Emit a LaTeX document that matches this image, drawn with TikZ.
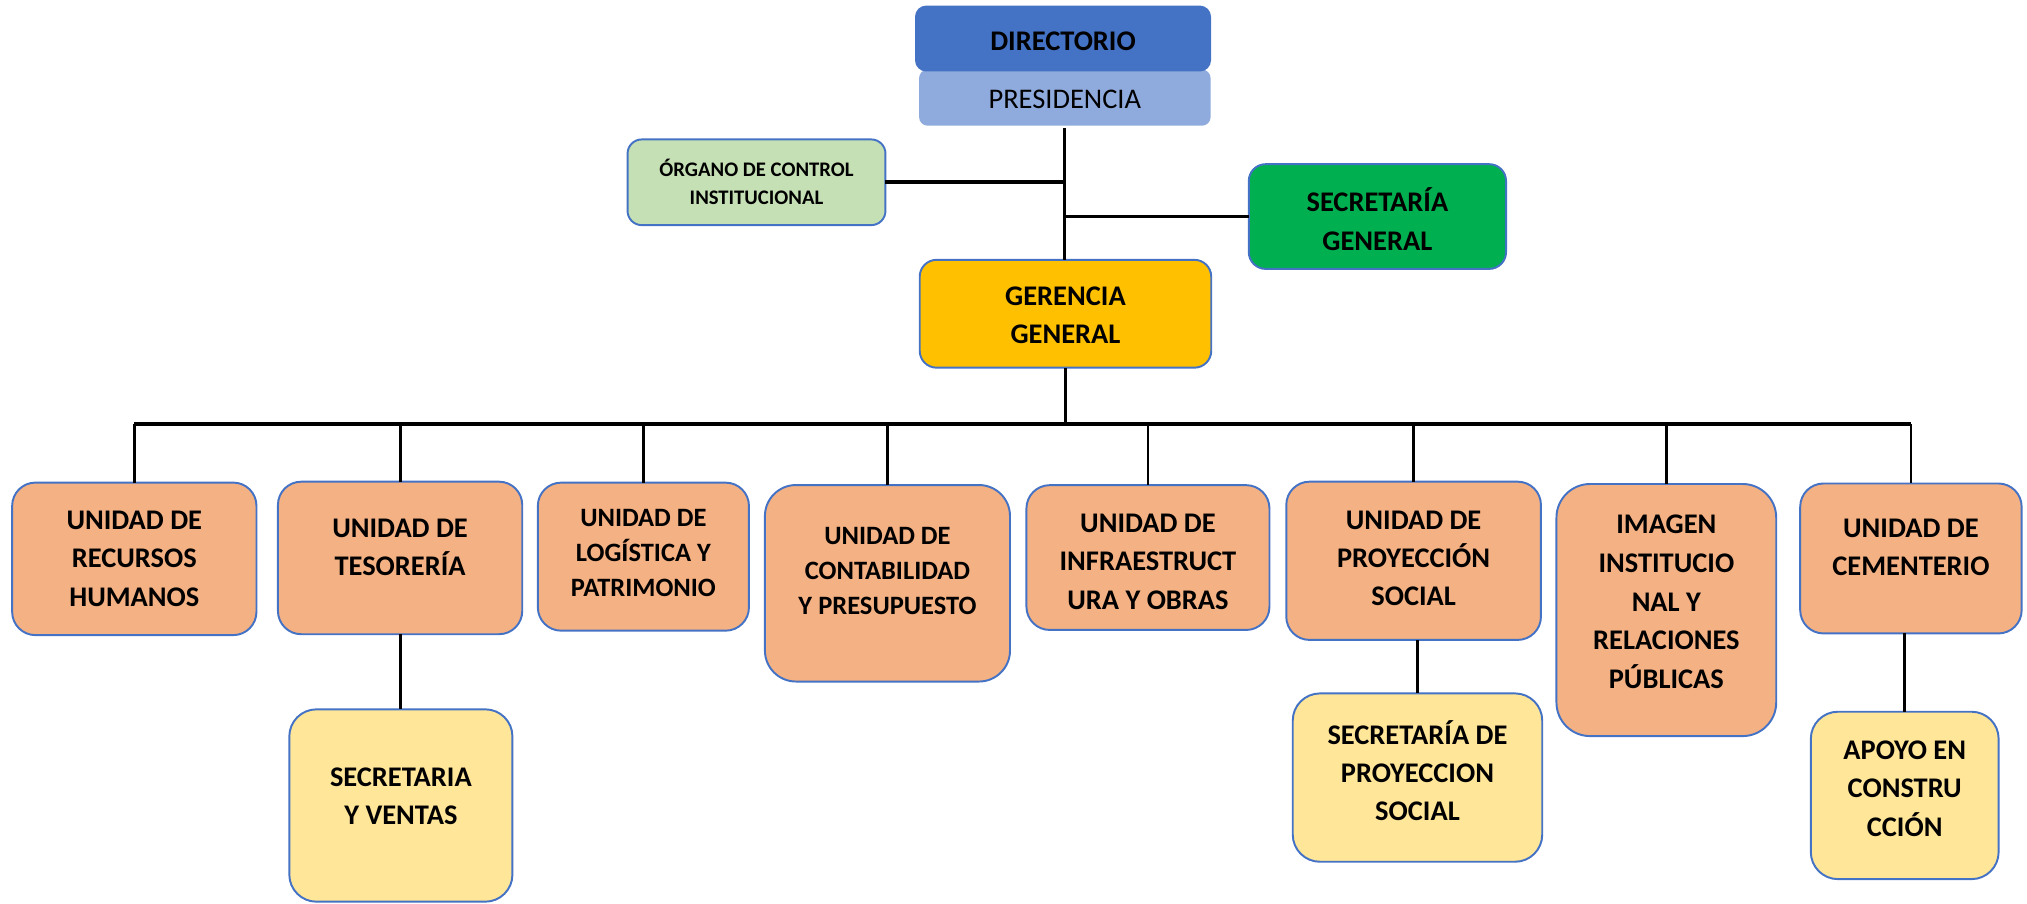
\documentclass[tikz,border=0pt]{standalone}
\usepackage{fontspec}
\setmainfont{Carlito}
\definecolor{bordblue}{HTML}{4472C4}
\definecolor{dirblue}{HTML}{4472C4}
\definecolor{presblue}{HTML}{8FAADC}
\definecolor{orggreen}{HTML}{C5E0B4}
\definecolor{secgreen}{HTML}{00B050}
\definecolor{gerorange}{HTML}{FFC000}
\definecolor{unitfill}{HTML}{F4B183}
\definecolor{subfill}{HTML}{FFE699}
\tikzset{
  box/.style={draw=bordblue, line width=1.5pt, inner sep=0pt, outer sep=0pt},
  unitbox/.style={box, fill=unitfill, rounded corners=18pt},
  subbox/.style={box, fill=subfill, rounded corners=21pt},
  txt/.style={font=\bfseries\fontsize{22}{29.6}\selectfont, align=center, inner sep=0pt},
  txtsm/.style={font=\bfseries\fontsize{20.5}{27}\selectfont, align=center, inner sep=0pt},
  con/.style={line width=2.2pt, black},
  thick con/.style={line width=3pt, black},
}
\begin{document}
\begin{tikzpicture}[x=1pt,y=-1pt]
\useasboundingbox (0,0) rectangle (1568,699);
% top
\node[box, draw=presblue, fill=presblue, rounded corners=6pt, minimum width=224pt, minimum height=42pt] (pres) at (823.7,75.5) {};
\node[box, draw=dirblue, fill=dirblue, rounded corners=8pt, minimum width=227.5pt, minimum height=49.5pt] (dir) at (822.3,29.8) {};
\node[txt] (dirt) at (822.3,31.7) {DIRECTORIO};
\node[txt, font=\fontsize{22}{29.6}\selectfont] (prest) at (823.7,76.6) {PRESIDENCIA};
\node[box, fill=orggreen, rounded corners=11pt, minimum width=199.5pt, minimum height=66.3pt] (org) at (585.2,141) {};
\node[txt, font=\bfseries\fontsize{16}{21.5}\selectfont] (orgt) at (585.2,141) {ÓRGANO DE CONTROL\\INSTITUCIONAL};
\node[box, fill=secgreen, rounded corners=13pt, minimum width=199pt, minimum height=81pt] (sec) at (1065.5,167.5) {};
\node[txt] (sect) at (1065.5,169.5) {SECRETARÍA\\GENERAL};
\node[box, fill=gerorange, rounded corners=13pt, minimum width=225.5pt, minimum height=83.4pt] (ger) at (824.2,242.7) {};
\node[txt] (gert) at (824.2,244) {GERENCIA\\GENERAL};
% units
\node[unitbox, minimum width=189pt, minimum height=118pt] (rrhh) at (103.9,432.3) {};
\node[txt] (rrhht) at (103.9,432.3) {UNIDAD DE\\RECURSOS\\HUMANOS};
\node[unitbox, minimum width=189pt, minimum height=118pt] (tes) at (309.5,431.6) {};
\node[txt] (test) at (309.5,423.5) {UNIDAD DE\\TESORERÍA};
\node[unitbox, minimum width=163.3pt, minimum height=114.5pt] (log) at (497.7,430.6) {};
\node[txtsm] (logt) at (497.7,428) {UNIDAD DE\\LOGÍSTICA Y\\PATRIMONIO};
\node[unitbox, rounded corners=24pt, minimum width=189.6pt, minimum height=152pt] (cont) at (686.5,451.2) {};
\node[txtsm] (contt) at (686.5,442) {UNIDAD DE\\CONTABILIDAD\\Y PRESUPUESTO};
\node[unitbox, minimum width=188pt, minimum height=112pt] (infra) at (888,431.3) {};
\node[txt] (infrat) at (888,434.5) {UNIDAD DE\\INFRAESTRUCT\\URA Y OBRAS};
\node[unitbox, minimum width=197pt, minimum height=122.4pt] (proy) at (1093.5,433.8) {};
\node[txt] (proyt) at (1093.5,432) {UNIDAD DE\\PROYECCIÓN\\SOCIAL};
\node[unitbox, rounded corners=26pt, minimum width=170pt, minimum height=195pt] (img) at (1289,471.9) {};
\node[txt, font=\bfseries\fontsize{22}{29.9}\selectfont] (imgt) at (1289,465.7) {IMAGEN\\INSTITUCIO\\NAL Y\\RELACIONES\\PÚBLICAS};
\node[unitbox, minimum width=171.3pt, minimum height=116pt] (cem) at (1478.2,432) {};
\node[txt] (cemt) at (1478.2,423.5) {UNIDAD DE\\CEMENTERIO};
% sub units
\node[subbox, minimum width=172.6pt, minimum height=148.8pt] (sv) at (310.1,623.1) {};
\node[txt] (svt) at (310.1,616) {SECRETARIA\\Y VENTAS};
\node[subbox, minimum width=193pt, minimum height=130.2pt] (ps) at (1096.5,601.5) {};
\node[txt] (pst) at (1096.5,596) {SECRETARÍA DE\\PROYECCION\\SOCIAL};
\node[subbox, minimum width=145.3pt, minimum height=129.5pt] (apoyo) at (1473.4,615.3) {};
\node[txt] (apoyot) at (1473.4,610) {APOYO EN\\CONSTRU\\CCIÓN};
% connectors
\coordinate (trunktop) at ([yshift=-2.5pt]pres.south);
\draw[con] (trunktop) -- (trunktop |- ger.north);
\draw[thick con] (org.east) -- (org.east -| trunktop);
\draw[thick con] (sec.west) -- (sec.west -| trunktop);
\coordinate (busy) at (0,328);
\draw[con] (ger.south) -- (ger.south |- busy);
\draw[thick con] (rrhh.north |- busy) -- (cem.north |- busy);
\foreach \n in {rrhh,tes,log,cont,infra,proy,img,cem}
  \draw[con] (\n.north |- busy) -- (\n.north);
\draw[con] (tes.south) -- (tes.south |- sv.north);
\draw[con] (ps.north |- proy.south) -- (ps.north);
\draw[con] (apoyo.north |- cem.south) -- (apoyo.north);
\end{tikzpicture}
\end{document}
